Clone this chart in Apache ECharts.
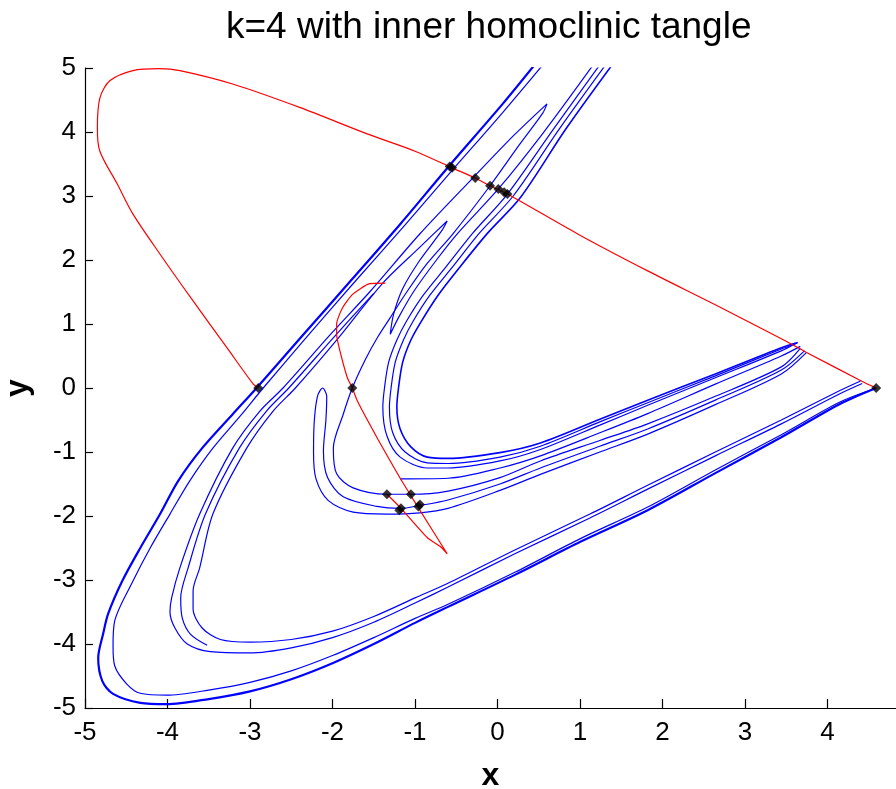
<!DOCTYPE html>
<html>
<head>
<meta charset="utf-8">
<script src="https://cdn.jsdelivr.net/npm/echarts@6/dist/echarts.min.js"></script>
<style>
  html, body { margin: 0; padding: 0; background: #fff; }
  #chart { width: 896px; height: 789px; }
</style>
</head>
<body>
<div id="chart"></div>
<script>
// unstable manifold strands (blue)
const aOuter = [[4.59,0],[4.15,-0.25],[3.44,-0.77],[2.64,-1.33],[1.82,-1.91],[1.01,-2.40],[0.21,-2.92],[-0.60,-3.42],[-1.00,-3.67],[-1.50,-4.00],[-2.00,-4.30],[-2.50,-4.55],[-3.00,-4.74],[-3.50,-4.86],[-4.01,-4.94],[-4.33,-4.92],[-4.66,-4.78],[-4.79,-4.58],[-4.84,-4.22],[-4.78,-3.84],[-4.72,-3.53],[-4.55,-3.02],[-4.33,-2.50],[-4.09,-1.97],[-3.87,-1.45],[-3.58,-0.94],[-3.21,-0.41],[-2.92,0],[-2.39,0.78],[-1.79,1.66],[-1.18,2.56],[-0.60,3.45],[0.05,4.42],[0.45,5.05]]
const aInner = [[4.55,-0.02],[4.15,-0.22],[3.44,-0.73],[2.64,-1.28],[1.82,-1.86],[1.01,-2.35],[0.21,-2.88],[-0.60,-3.38],[-1.00,-3.60],[-1.50,-3.90],[-2.00,-4.18],[-2.50,-4.42],[-3.00,-4.60],[-3.50,-4.72],[-4.01,-4.80],[-4.33,-4.77],[-4.49,-4.63],[-4.64,-4.34],[-4.66,-4.03],[-4.64,-3.64],[-4.42,-3.02],[-4.21,-2.50],[-3.97,-1.97],[-3.73,-1.45],[-3.45,-0.94],[-3.12,-0.44],[-2.84,0],[-2.33,0.77],[-1.73,1.66],[-1.12,2.55],[-0.55,3.40],[0.06,4.30],[0.55,5.05]]
const bOuter = [[4.42,0.07],[4.15,-0.09],[3.44,-0.56],[2.64,-1.06],[1.82,-1.58],[1.12,-2.03],[0.21,-2.59],[-0.60,-3.11],[-1.00,-3.36],[-1.50,-3.66],[-2.00,-3.90],[-2.50,-4.06],[-3.00,-4.14],[-3.48,-4.12],[-3.76,-4.00],[-3.91,-3.75],[-3.97,-3.50],[-3.95,-3.28],[-3.85,-2.81],[-3.61,-1.97],[-3.21,-0.94],[-2.88,-0.36],[-2.60,0],[-2.03,0.83],[-1.55,1.50],[-0.94,2.41],[-0.30,3.28],[0.20,3.95],[0.60,4.44],[0.55,4.30],[0.27,3.81],[-0.09,3.16],[-0.54,2.41],[-0.85,1.95],[-1.10,1.50],[-1.30,1.10],[-1.45,0.80],[-1.60,0.45],[-1.76,0],[-1.87,-0.41],[-1.99,-0.94],[-1.95,-1.34],[-1.75,-1.56],[-1.34,-1.66],[-1.05,-1.66],[-0.60,-1.61],[0.03,-1.40],[0.52,-1.14],[1.24,-0.82],[1.82,-0.56],[2.64,-0.13],[3.44,0.33],[3.67,0.62]]
const bInner = [[4.40,0.11],[4.15,-0.04],[3.44,-0.50],[2.64,-1.00],[1.82,-1.52],[1.12,-1.97],[0.21,-2.53],[-0.60,-3.05],[-1.00,-3.28],[-1.50,-3.57],[-2.00,-3.80],[-2.50,-3.93],[-3.00,-3.97],[-3.36,-3.93],[-3.58,-3.75],[-3.69,-3.45],[-3.69,-3.17],[-3.61,-2.81],[-3.45,-1.97],[-3.04,-0.94],[-2.72,-0.36],[-2.45,0],[-1.93,0.78],[-1.39,1.64],[-0.95,2.19],[-0.61,2.61],[-0.68,2.45],[-0.95,1.98],[-1.15,1.55],[-1.26,1.15],[-1.30,0.84],[-1.20,1.10],[-1.02,1.50],[-0.74,2.00],[-0.48,2.42],[0.01,3.11],[0.55,3.98],[1.16,5.05]]
const bMid = [[-3.52,-4.02],[-3.72,-3.85],[-3.82,-3.60],[-3.84,-3.28],[-3.75,-2.81],[-3.54,-1.97],[-3.13,-0.94],[-2.80,-0.36],[-2.53,0],[-1.98,0.80],[-1.50,1.48]]
const u1 = [[1.24,5.05],[0.68,4.05],[0.12,3.03],[-0.30,2.42],[-0.62,1.90],[-0.90,1.45],[-1.10,1.05],[-1.22,0.75],[-1.32,0.40],[-1.37,0],[-1.39,-0.30],[-1.34,-0.75],[-1.18,-1.08],[-0.85,-1.25],[-0.60,-1.25],[0.03,-1.14],[0.52,-0.96],[1.24,-0.58],[1.82,-0.27],[2.64,0.16],[3.44,0.58],[3.61,0.69]]
const u1b = [[1.31,5.05],[0.75,4.05],[0.19,3.00],[-0.22,2.42],[-0.54,1.90],[-0.82,1.45],[-1.02,1.05],[-1.14,0.75],[-1.24,0.40],[-1.29,0],[-1.31,-0.30],[-1.27,-0.70],[-1.12,-1.00],[-0.85,-1.17],[-0.60,-1.18],[0.03,-1.08],[0.52,-0.91],[1.24,-0.53],[1.82,-0.23],[2.64,0.19],[3.44,0.61],[3.63,0.70]]
const u0 = [[1.39,5.05],[0.83,4.05],[0.28,2.98],[-0.12,2.42],[-0.45,1.90],[-0.72,1.45],[-0.92,1.05],[-1.05,0.75],[-1.15,0.40],[-1.20,0],[-1.22,-0.30],[-1.18,-0.64],[-1.05,-0.92],[-0.85,-1.08],[-0.60,-1.10],[0.03,-1.01],[0.52,-0.86],[1.24,-0.49],[1.82,-0.19],[2.64,0.22],[3.44,0.63],[3.64,0.71]]
const u2 = [[-1.18,-1.42],[-0.60,-1.41],[0.03,-1.25],[0.52,-1.06],[1.24,-0.70],[1.82,-0.40],[2.64,0.06],[3.44,0.50],[3.67,0.65]]
const tLoop = [[3.74,0.55],[3.44,0.22],[2.64,-0.26],[1.82,-0.72],[1.24,-1.00],[0.52,-1.35],[0.03,-1.60],[-0.60,-1.88],[-0.94,-1.95],[-1.34,-1.97],[-1.75,-1.94],[-2.05,-1.76],[-2.20,-1.42],[-2.23,-1.00],[-2.22,-0.50],[-2.18,-0.12],[-2.12,0],[-2.07,-0.13],[-2.08,-0.50],[-2.11,-0.98],[-2.06,-1.40],[-1.87,-1.70],[-1.46,-1.85],[-1.17,-1.88],[-0.96,-1.84],[-0.60,-1.75],[0.03,-1.50],[0.52,-1.25],[1.24,-0.91],[1.82,-0.64],[2.64,-0.19],[3.44,0.28],[3.72,0.58]]

// stable manifold pieces (red)
const redOuter = [[4.59,0],[4.41,0.11],[3.74,0.56],[3.44,0.77],[2.64,1.30],[1.82,1.83],[1.01,2.38],[0.12,3.03],[-0.09,3.16],[-0.27,3.28],[-0.55,3.44],[-1.00,3.70],[-1.58,3.97],[-2.39,4.38],[-3.21,4.75],[-3.85,4.96],[-4.10,4.99],[-4.42,4.96],[-4.70,4.80],[-4.82,4.53],[-4.85,4.06],[-4.82,3.70],[-4.61,3.19],[-4.42,2.72],[-4.09,2.09],[-3.69,1.36],[-3.28,0.63],[-2.96,0.06],[-2.90,0]]
const redInner = [[-1.36,1.64],[-1.55,1.63],[-1.75,1.47],[-1.88,1.25],[-1.95,1.00],[-1.95,0.84],[-1.91,0.58],[-1.82,0.16],[-1.76,0],[-1.70,-0.20],[-1.45,-0.80],[-1.18,-1.41],[-1.06,-1.66],[-0.97,-1.85],[-0.61,-2.59],[-0.70,-2.47],[-0.85,-2.34],[-1.17,-1.88],[-1.34,-1.66]]

// marked homoclinic points
const dots = [[-2.90,0],[-1.76,0],[4.59,0],[-0.55,3.44],[-0.58,3.46],[-0.27,3.28],[-0.09,3.16],[0.01,3.11],[0.08,3.06],[0.12,3.03],[-1.34,-1.66],[-1.05,-1.66],[-1.17,-1.88],[-1.19,-1.91],[-0.96,-1.85],[-0.94,-1.82]]

const blueStrands = [aOuter, aInner, bOuter, bInner, bMid, u1, u1b, u0, u2, tLoop]

let chart = echarts.init(document.getElementById('chart'))

let series = blueStrands.map((d, i) => ({
  type: 'line',
  data: d,
  showSymbol: false,
  smooth: 0.3,
  lineStyle: { color: '#0000ff', width: i === 0 ? 2.2 : (i === 7 ? 1.6 : 1.2) },
  z: 2
}))
series.push({
  type: 'line', data: redOuter, showSymbol: false, smooth: 0.3,
  lineStyle: { color: '#ff0000', width: 1.2 }, z: 3
})
series.push({
  type: 'line', data: redInner, showSymbol: false, smooth: 0.2,
  lineStyle: { color: '#ff0000', width: 1.2 }, z: 3
})
series.push({
  type: 'scatter', data: dots, symbol: 'diamond', symbolSize: 10,
  itemStyle: { color: '#000' }, z: 4
})

let option = {
  animation: false,
  backgroundColor: '#fff',
  title: {
    text: 'k=4 with inner homoclinic tangle',
    left: 221,
    top: 4,
    textStyle: { fontFamily: 'Liberation Sans', fontWeight: 'normal', fontSize: 37, color: '#000' }
  },
  grid: { left: 85, top: 68, width: 811, height: 640, outerBoundsMode: 'none' },
  xAxis: {
    type: 'value',
    min: -5,
    max: 4.83,
    interval: 1,
    name: 'x',
    nameLocation: 'middle',
    nameGap: 52,
    nameTextStyle: { fontFamily: 'Liberation Sans', fontWeight: 'bold', fontSize: 32, color: '#000' },
    axisLine: { onZero: false, lineStyle: { color: '#000', width: 1.2 } },
    axisTick: { inside: true, length: 9, lineStyle: { color: '#000', width: 1.2 } },
    axisLabel: {
      margin: 12,
      showMaxLabel: false,
      fontFamily: 'Liberation Sans', fontSize: 26, color: '#000',
      formatter: v => (Number.isInteger(v) ? String(v) : '')
    },
    splitLine: { show: false }
  },
  yAxis: {
    type: 'value',
    min: -5,
    max: 5,
    interval: 1,
    name: 'y',
    nameLocation: 'middle',
    nameRotate: 90,
    nameGap: 51,
    nameTextStyle: { fontFamily: 'Liberation Sans', fontWeight: 'bold', fontSize: 32, color: '#000' },
    axisLine: { onZero: false, lineStyle: { color: '#000', width: 1.2 } },
    axisTick: { inside: true, length: 8, lineStyle: { color: '#000', width: 1.2 } },
    axisLabel: { margin: 9, fontFamily: 'Liberation Sans', fontSize: 26, color: '#000' },
    splitLine: { show: false }
  },
  series: series
}
chart.setOption(option)
</script>
</body>
</html>
